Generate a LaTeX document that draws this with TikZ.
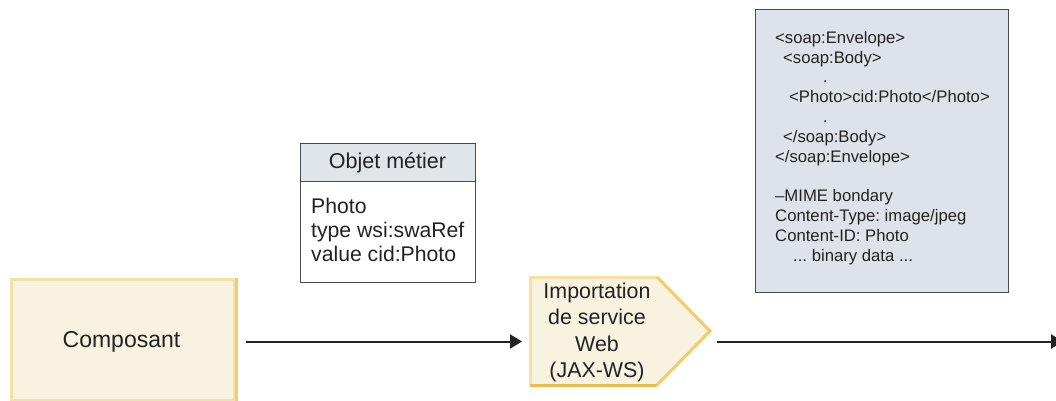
\documentclass[tikz,border=0pt]{standalone}
\usepackage{fontspec}
\setmainfont{Liberation Sans}
\frenchspacing
\usetikzlibrary{arrows.meta,calc}
\definecolor{cream}{HTML}{F8F2E1}
\definecolor{goldL}{HTML}{F5E0A6}
\definecolor{goldM}{HTML}{F3CB68}
\definecolor{goldD}{HTML}{EDBA4C}
\definecolor{hdr}{HTML}{E0E5EA}
\definecolor{soapbg}{HTML}{DEE3E9}
\definecolor{ink}{HTML}{222222}
\definecolor{frame}{HTML}{4A4A4A}
\begin{document}
\begin{tikzpicture}[x=1pt,y=-1pt,
  arr/.style={draw=ink, line width=2pt, -{Triangle[length=12pt,width=14pt]}},
  txt/.style={text=ink, inner sep=0pt},
  compbox/.style={fill=cream, draw=goldL, line width=3pt, inner sep=0pt},
  framebox/.style={draw=frame, line width=1.2pt, inner sep=0pt}]
\clip (0,0) rectangle (1056,400);
% Composant
\node[compbox, anchor=north west, minimum width=223pt, minimum height=121pt] (comp) at (10,278) {};
\draw[goldM, line width=3pt] (comp.north east) -- (comp.south east) -- (comp.south west);
\node[txt, anchor=base, font=\fontsize{23}{28}\selectfont] (compT) at (121.5,347) {Composant};
% Business object
\fill[hdr] (300,143) rectangle (475,181);
\node[framebox, anchor=north west, minimum width=175pt, minimum height=139pt] (bo) at (300,143) {};
\draw[frame, line width=1pt] (300,181) -- (475,181);
\node[txt, anchor=base, font=\fontsize{21.5}{24}\selectfont] (boH) at (387.5,168) {Objet métier};
\node[txt, anchor=north west, align=left, font=\fontsize{21.2}{24}\selectfont] (boB) at (311,197.8)
  {Photo\\type wsi:swaRef\\value cid:Photo};
% Import shape
\fill[cream] (530,277) -- (657,277) -- (710,331) -- (657,385) -- (530,385) -- cycle;
\draw[goldL, line width=3pt] (530,385) -- (530,277) -- (657,277);
\draw[goldM, line width=3pt, line join=miter] (657,277) -- (710,331) -- (657,385);
\draw[goldD, line width=3pt] (657,385) -- (530,385);
\node[txt, anchor=north, align=center, font=\fontsize{21.4}{26.5}\selectfont] (imp) at (597,282.7)
  {Importation\\de service\\Web\\(JAX-WS)};
\coordinate (impW) at (530,341.5);
\coordinate (impE) at (710,341.5);
\coordinate (endR) at (1063,341.5);
% SOAP message
\node[framebox, fill=soapbg, anchor=north west, minimum width=253pt, minimum height=283pt] (soap) at (755,9) {};
\node[txt, anchor=north west, align=left, font=\fontsize{16.7}{19.8}\selectfont] (soapT) at (775,31)
  {<soap:Envelope>\\
   \hspace*{8pt}<soap:Body>\\
   \hspace*{48pt}.\\
   \hspace*{14pt}<Photo>cid:Photo</Photo>\\
   \hspace*{48pt}.\\
   \hspace*{8pt}</soap:Body>\\
   </soap:Envelope>\\
   \mbox{}\\
   –MIME bondary\\
   Content-Type: image/jpeg\\
   Content-ID: Photo\\
   \hspace*{18pt}... binary data ...};
% Connectors
\draw[arr, shorten <=9.5pt, shorten >=8pt] (comp.east |- impW) -- (impW);
\draw[arr, shorten <=7pt] (impE) -- (endR);
\end{tikzpicture}
\end{document}
